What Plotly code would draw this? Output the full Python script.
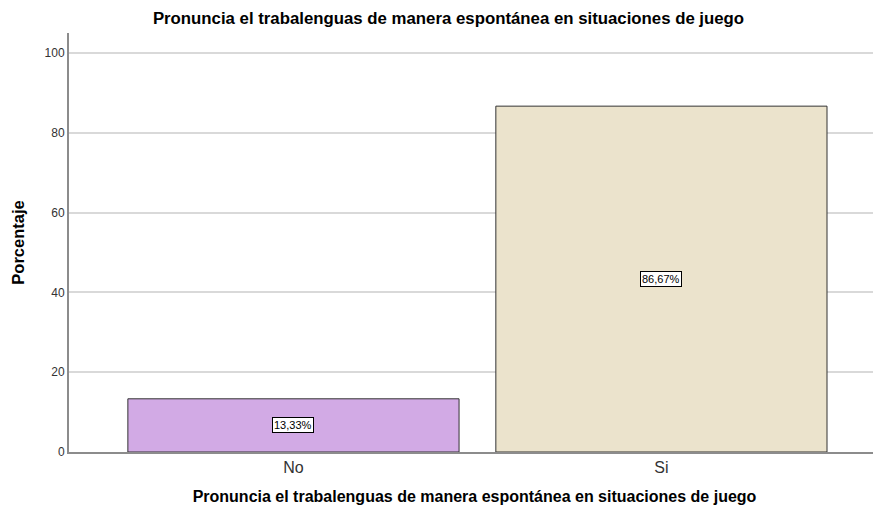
import plotly.graph_objects as go

categories = ["No", "Si"]
percentages = [13.33, 86.67]
labels = ["13,33%", "86,67%"]
colors = ["#d2aae5", "#ebe3cc"]
y_ticks = [0, 20, 40, 60, 80, 100]

title = "Pronuncia el trabalenguas de manera espontánea en situaciones de juego"
font = "Liberation Sans, Arial, sans-serif"

xs = list(range(len(categories)))

fig = go.Figure()
fig.add_trace(go.Bar(
    x=xs, y=percentages, width=0.9,
    marker=dict(color=colors, line=dict(color="#333333", width=1)),
    hoverinfo="skip",
))

for x, y, t in zip(xs, percentages, labels):
    fig.add_annotation(
        x=x, y=y / 2, text=t, showarrow=False,
        font=dict(family=font, size=11, color="#000000"),
        bgcolor="#ffffff", bordercolor="#000000", borderwidth=1, borderpad=1,
    )

fig.update_layout(
    width=881, height=516,
    margin=dict(l=61, r=9, t=25, b=72),
    paper_bgcolor="#ffffff", plot_bgcolor="#ffffff",
    showlegend=False,
    font=dict(family=font, color="#333333"),
    title=dict(text="<b>" + title + "</b>", x=0.5, xanchor="center", y=0.981, yanchor="middle",
               font=dict(family=font, size=16.8, color="#000000")),
    xaxis=dict(
        tickmode="array", tickvals=xs, ticktext=categories,
        range=[-0.61, 1.594],
        showgrid=False, zeroline=False,
        showline=True, linecolor="#8c8c8c", linewidth=2,
        ticks="", tickfont=dict(family=font, size=16, color="#333333"),
        title=dict(text="<b>" + title + "</b>", font=dict(family=font, size=16, color="#000000"), standoff=16),
    ),
    yaxis=dict(
        range=[0, 105], tickmode="array", tickvals=y_ticks,
        showgrid=True, gridcolor="#d9d9d9", gridwidth=1.5,
        zeroline=False, showline=True, linecolor="#8c8c8c", linewidth=2,
        ticks="", tickfont=dict(family=font, size=12, color="#333333"),
        title=dict(text="<b>Porcentaje</b>", font=dict(family=font, size=16.5, color="#000000"), standoff=16),
    ),
)

fig.write_html("out.html")
